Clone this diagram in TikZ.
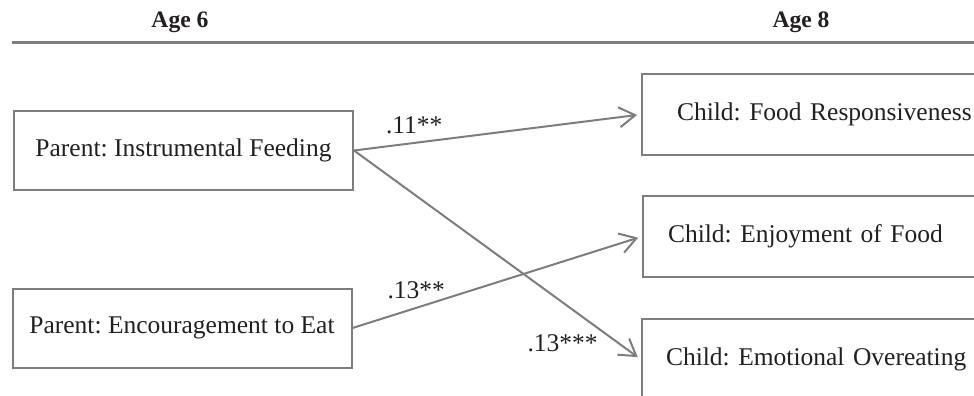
\documentclass[tikz,border=0pt]{standalone}
\usepackage{fontspec}
\setmainfont{Liberation Serif}
\usetikzlibrary{arrows.meta,
	positioning}
\definecolor{linegray}{RGB}{125,125,125}
\definecolor{inkblack}{RGB}{35,31,32}
\frenchspacing

\begin{document}
\begin{tikzpicture}[x=0.5pt,y=-0.5pt]
      \tikzstyle{agelabel}=[font=\fontsize{11.8}{14}\selectfont\bfseries,text=inkblack]
      \tikzstyle{parentbox}=[draw=linegray,line width=1pt,minimum width=169.5pt,minimum height=39.5pt,inner sep=0pt,text=inkblack,font=\fontsize{12.75}{15}\selectfont]
      \tikzstyle{childbox}=[draw=linegray,line width=1pt,anchor=north west,minimum height=40.5pt,text width=160pt,align=left,inner xsep=12pt,text=inkblack,font=\fontsize{12.75}{15}\selectfont]
      \tikzstyle{path}=[draw=linegray,line width=1pt,-{Straight Barb[length=8pt,width=10pt]},shorten >=2pt]
      \tikzstyle{coef}=[text=inkblack,inner sep=0pt,font=\fontsize{12.75}{15}\selectfont]
      \clip (0,0) rectangle (974,396);
      \node[agelabel] (age6) at (180,22) {Age 6};
      \node[agelabel] (age8) at (801,22) {Age 8};
      \draw[linegray,line width=1.5pt] (12,42) -- (974,42);
      \node[parentbox] (if) at (183.5,150.5) {Parent: Instrumental Feeding};
      \node[parentbox] (ee) at (182,328) {Parent: Encouragement to Eat};
      \node[childbox,inner xsep=17.5pt] (fr) at (641,73) {Child: Food Responsiveness};
      \node[childbox,inner xsep=12.5pt] (ef) at (642,195) {Child: Enjoyment of Food};
      \node[childbox] (eo) at (641,318) {Child: Emotional Overeating};
      \draw[path] (if.east) -- node[coef,pos=0.21,yshift=9pt] {.11**} (fr.west);
      \draw[path] (if.east) -- node[coef,pos=0.727,yshift=-20.5pt] {.13***} (eo.west);
      \draw[path] (ee.east) -- node[coef,pos=0.22,yshift=9pt] {.13**} (ef.west);
\end{tikzpicture}
\end{document}
